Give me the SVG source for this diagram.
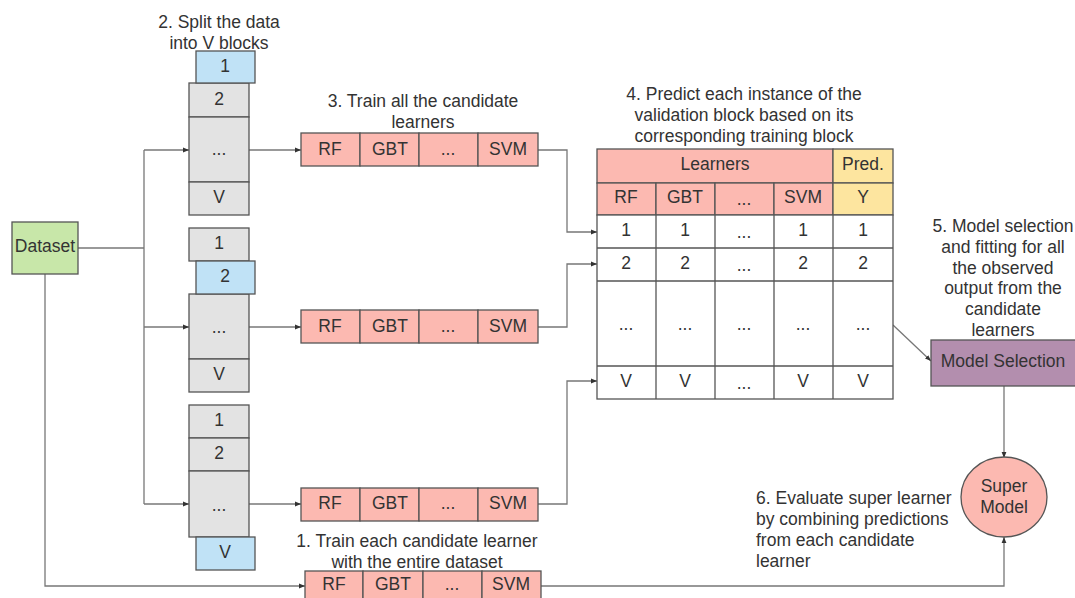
<svg xmlns="http://www.w3.org/2000/svg" width="1075" height="598" viewBox="0 0 1075 598">
<defs>
<marker id="ah" viewBox="0 0 10 10" refX="10" refY="5" markerWidth="6" markerHeight="6" orient="auto" markerUnits="userSpaceOnUse">
<path d="M0,1 L10,5 L0,9 z" fill="#333"/>
</marker>
<style>
text{font-family:"Liberation Sans",Arial,sans-serif;font-size:17.5px;fill:#333;}
.c{text-anchor:middle;dominant-baseline:central;}
.l{dominant-baseline:central;}
.g{fill:#e3e3e3;stroke:#555;stroke-width:1.3;}
.b{fill:#c0e2f6;stroke:#555;stroke-width:1.3;}
.p{fill:#fcb9b1;stroke:#555;stroke-width:1.3;}
.y{fill:#fde59f;stroke:#555;stroke-width:1.3;}
.w{fill:#fff;stroke:#555;stroke-width:1.3;}
.cn{fill:none;stroke:#777;stroke-width:1.3;}
.ca{fill:none;stroke:#777;stroke-width:1.3;marker-end:url(#ah);}
</style>
</defs>
<rect width="1075" height="598" fill="#fff"/>

<g id="connectors">
<polyline class="cn" points="78,248 144,248"/>
<polyline class="cn" points="144,150 144,504"/>
<polyline class="ca" points="144,150 189,150"/>
<polyline class="ca" points="144,327 189,327"/>
<polyline class="ca" points="144,504 189,504"/>
<polyline class="ca" points="249,150 301,150"/>
<polyline class="ca" points="249,327 301,327"/>
<polyline class="ca" points="249,504 301,504"/>
<polyline class="ca" points="538,150 567,150 567,232 597,232"/>
<polyline class="ca" points="538,327 567,327 567,264 597,264"/>
<polyline class="ca" points="538,504 567,504 567,381 597,381"/>
<polyline class="ca" points="45,274 45,586 305,586"/>
<polyline class="ca" points="893,325 931,361"/>
<polyline class="ca" points="1004,386 1004,458"/>
<polyline class="ca" points="541,586 1004,586 1004,537"/>
</g>

<g id="dataset">
<rect x="12" y="222" width="66" height="52" fill="#c8e7a9" stroke="#555" stroke-width="1.3"/>
<text class="c" x="45" y="246">Dataset</text>
</g>

<g id="label2"><text class="c" x="219" y="22">2. Split the data</text><text class="c" x="219" y="43">into V blocks</text></g>

<g id="stack1">
<rect class="g" x="189" y="83" width="60" height="34"/><text class="c" x="219" y="99">2</text>
<rect class="g" x="189" y="117" width="60" height="65"/><text class="c" x="219" y="149">...</text>
<rect class="g" x="189" y="182" width="60" height="33"/><text class="c" x="219" y="197">V</text>
<rect class="b" x="196" y="51" width="59" height="32"/><text class="c" x="225" y="66">1</text>
</g>

<g id="stack2">
<rect class="g" x="189" y="228" width="60" height="33"/><text class="c" x="219" y="243">1</text>
<rect class="g" x="189" y="294" width="60" height="65"/><text class="c" x="219" y="327">...</text>
<rect class="g" x="189" y="359" width="60" height="33"/><text class="c" x="219" y="374">V</text>
<rect class="b" x="196" y="261" width="59" height="33"/><text class="c" x="225" y="276">2</text>
</g>

<g id="stack3">
<rect class="g" x="189" y="405" width="60" height="33"/><text class="c" x="219" y="420">1</text>
<rect class="g" x="189" y="438" width="60" height="33"/><text class="c" x="219" y="453">2</text>
<rect class="g" x="189" y="471" width="60" height="66"/><text class="c" x="219" y="505">...</text>
<rect class="b" x="196" y="537" width="59" height="33"/><text class="c" x="225" y="552">V</text>
</g>

<g id="label3"><text class="c" x="423" y="101">3. Train all the candidate</text><text class="c" x="423" y="122">learners</text></g>

<g id="learners1">
<rect class="p" x="301" y="133" width="59" height="33"/><text class="c" x="330" y="149">RF</text>
<rect class="p" x="360" y="133" width="59" height="33"/><text class="c" x="390" y="149">GBT</text>
<rect class="p" x="419" y="133" width="59" height="33"/><text class="c" x="448" y="149">...</text>
<rect class="p" x="478" y="133" width="60" height="33"/><text class="c" x="508" y="149">SVM</text>
</g>
<g id="learners2">
<rect class="p" x="301" y="310" width="59" height="33"/><text class="c" x="330" y="326">RF</text>
<rect class="p" x="360" y="310" width="59" height="33"/><text class="c" x="390" y="326">GBT</text>
<rect class="p" x="419" y="310" width="59" height="33"/><text class="c" x="448" y="326">...</text>
<rect class="p" x="478" y="310" width="60" height="33"/><text class="c" x="508" y="326">SVM</text>
</g>
<g id="learners3">
<rect class="p" x="301" y="488" width="59" height="33"/><text class="c" x="330" y="503">RF</text>
<rect class="p" x="360" y="488" width="59" height="33"/><text class="c" x="390" y="503">GBT</text>
<rect class="p" x="419" y="488" width="59" height="33"/><text class="c" x="448" y="503">...</text>
<rect class="p" x="478" y="488" width="60" height="33"/><text class="c" x="508" y="503">SVM</text>
</g>

<g id="label1"><text class="c" x="417" y="541">1. Train each candidate learner</text><text class="c" x="417" y="562">with the entire dataset</text></g>

<g id="learners4">
<rect class="p" x="305" y="571" width="58" height="33"/><text class="c" x="334" y="584">RF</text>
<rect class="p" x="363" y="571" width="60" height="33"/><text class="c" x="393" y="584">GBT</text>
<rect class="p" x="423" y="571" width="59" height="33"/><text class="c" x="452" y="584">...</text>
<rect class="p" x="482" y="571" width="59" height="33"/><text class="c" x="511" y="584">SVM</text>
</g>

<g id="label4"><text class="c" x="744" y="94">4. Predict each instance of the</text><text class="c" x="744" y="115">validation block based on its</text><text class="c" x="744" y="136">corresponding training block</text></g>

<g id="table">
<rect class="p" x="597" y="149" width="236" height="34"/><text class="c" x="715" y="164">Learners</text>
<rect class="y" x="833" y="149" width="60" height="34"/><text class="c" x="863" y="164">Pred.</text>
<rect class="p" x="597" y="183" width="59" height="32"/><text class="c" x="626" y="197">RF</text>
<rect class="p" x="656" y="183" width="59" height="32"/><text class="c" x="685" y="197">GBT</text>
<rect class="p" x="715" y="183" width="59" height="32"/><text class="c" x="744" y="199">...</text>
<rect class="p" x="774" y="183" width="59" height="32"/><text class="c" x="803" y="197">SVM</text>
<rect class="y" x="833" y="183" width="60" height="32"/><text class="c" x="863" y="197">Y</text>
<rect class="w" x="597" y="215" width="296" height="184"/>
<g stroke="#555" stroke-width="1.3">
<line x1="597" y1="248" x2="893" y2="248"/>
<line x1="597" y1="281" x2="893" y2="281"/>
<line x1="597" y1="366" x2="893" y2="366"/>
<line x1="656" y1="215" x2="656" y2="399"/>
<line x1="715" y1="215" x2="715" y2="399"/>
<line x1="774" y1="215" x2="774" y2="399"/>
<line x1="833" y1="215" x2="833" y2="399"/>
</g>
<text class="c" x="626" y="230">1</text><text class="c" x="685" y="230">1</text><text class="c" x="744" y="232">...</text><text class="c" x="803" y="230">1</text><text class="c" x="863" y="230">1</text>
<text class="c" x="626" y="263">2</text><text class="c" x="685" y="263">2</text><text class="c" x="744" y="265">...</text><text class="c" x="803" y="263">2</text><text class="c" x="863" y="263">2</text>
<text class="c" x="626" y="324">...</text><text class="c" x="685" y="324">...</text><text class="c" x="744" y="324">...</text><text class="c" x="803" y="324">...</text><text class="c" x="863" y="324">...</text>
<text class="c" x="626" y="381">V</text><text class="c" x="685" y="381">V</text><text class="c" x="744" y="383">...</text><text class="c" x="803" y="381">V</text><text class="c" x="863" y="381">V</text>
</g>

<g id="label5">
<text class="c" x="1003" y="226">5. Model selection</text>
<text class="c" x="1003" y="247">and fitting for all</text>
<text class="c" x="1003" y="268">the observed</text>
<text class="c" x="1003" y="288">output from the</text>
<text class="c" x="1003" y="309">candidate</text>
<text class="c" x="1003" y="330">learners</text>
</g>

<g id="model-selection">
<rect x="931" y="340" width="146" height="46" fill="#b38eae" stroke="#555" stroke-width="1.3"/>
<text class="c" x="1003" y="361">Model Selection</text>
</g>

<g id="super-model">
<ellipse cx="1004" cy="497" rx="43" ry="40" fill="#fcb9b1" stroke="#555" stroke-width="1.3"/>
<text class="c" x="1004" y="486">Super</text>
<text class="c" x="1004" y="507">Model</text>
</g>

<g id="label6">
<text class="l" x="756" y="498">6. Evaluate super learner</text>
<text class="l" x="756" y="519">by combining predictions</text>
<text class="l" x="756" y="540">from each candidate</text>
<text class="l" x="756" y="561">learner</text>
</g>
</svg>
